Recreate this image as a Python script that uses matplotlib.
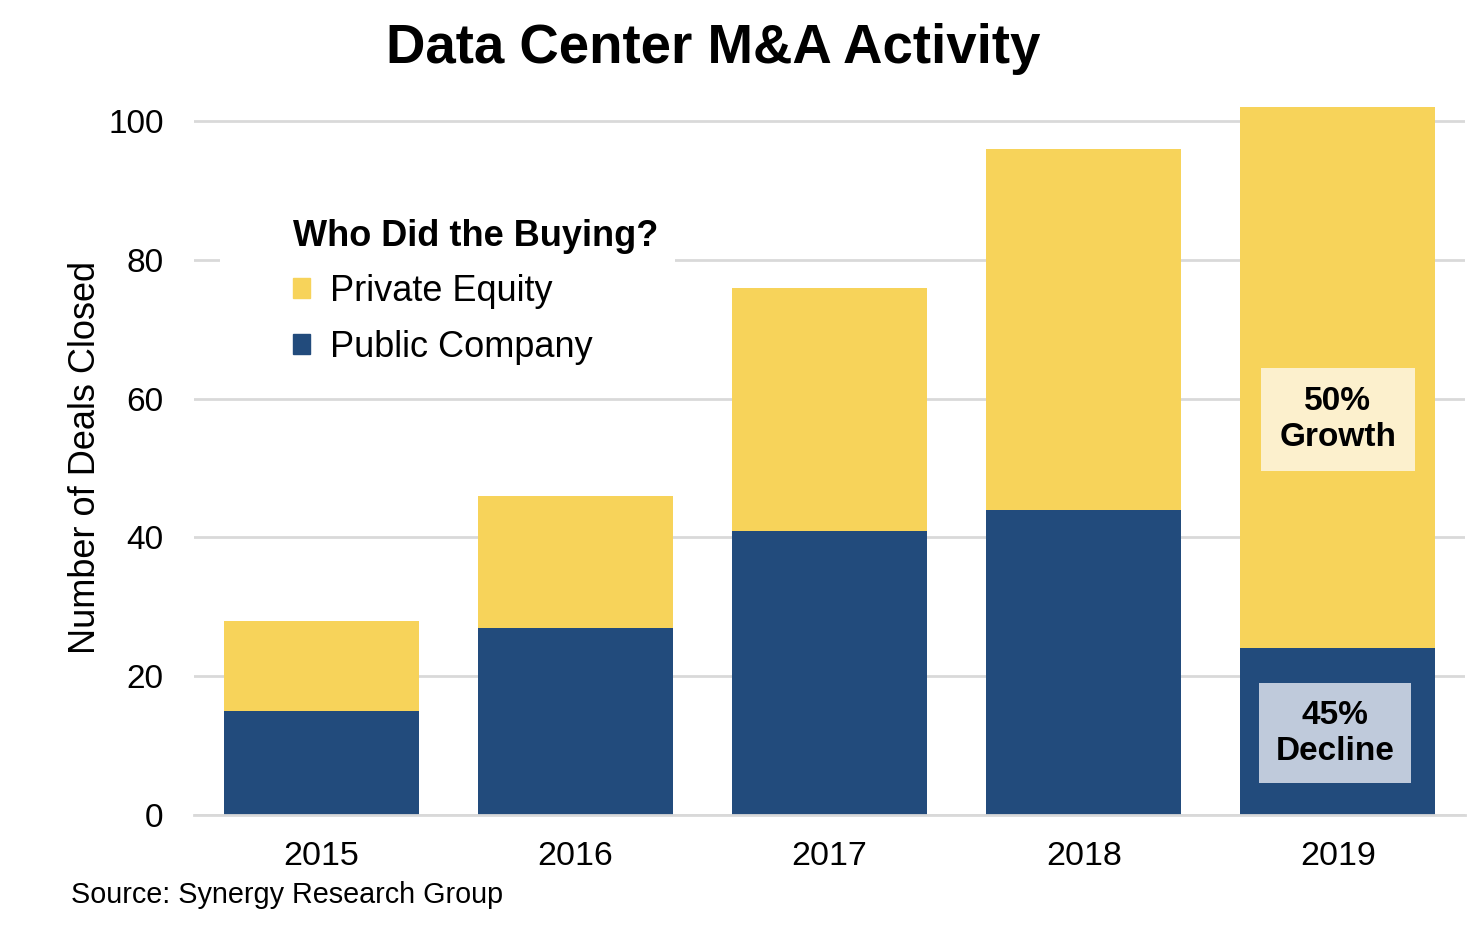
import matplotlib
matplotlib.use('Agg')
import matplotlib.pyplot as plt
from matplotlib.patches import Patch, Rectangle

plt.rcParams['font.family'] = ['Liberation Sans', 'DejaVu Sans']

years = ['2015', '2016', '2017', '2018', '2019']
public_company = [15, 27, 41, 44, 24]
private_equity = [13, 19, 35, 52, 78]

yellow = '#F7D35A'
navy = '#224B7C'
grid_col = '#D9D9D9'

fig = plt.figure(figsize=(14.82, 9.38), dpi=100)
ax = fig.add_axes([0.131, 0.1311, 0.8575, 0.762])

x = range(len(years))
ax.bar(x, public_company, width=0.767, color=navy, zorder=2)
ax.bar(x, private_equity, width=0.767, bottom=public_company, color=yellow, zorder=2)

ax.set_xlim(-0.5, 4.5)
ax.set_ylim(0, 103)
ax.set_yticks([0, 20, 40, 60, 80, 100])
ax.set_xticks(list(x))
ax.set_xticklabels(years)
ax.tick_params(axis='y', length=0, labelsize=24, pad=22)
ax.tick_params(axis='x', length=0, labelsize=24.5, pad=19)
ax.yaxis.grid(True, color=grid_col, linewidth=2, zorder=0)
ax.set_axisbelow(True)
for s in ['top', 'right', 'left']:
    ax.spines[s].set_visible(False)
ax.spines['bottom'].set_color(grid_col)
ax.spines['bottom'].set_linewidth(2)
ax.set_ylabel('Number of Deals Closed', fontsize=26, labelpad=4)

fig.text(0.481, 0.948, 'Data Center M&A Activity', fontsize=39.3, fontweight='bold',
         ha='center', va='center')
fig.text(0.048, 0.046, 'Source: Synergy Research Group', fontsize=20.7, ha='left', va='center')

# white area behind the legend (hides the gridline)
ax.add_patch(Rectangle((220 / 1482, 0.60), 455 / 1482, 0.18, transform=fig.transFigure,
                       facecolor='white', edgecolor='none', zorder=1))

handles = [Patch(color=yellow, label='Private Equity'),
           Patch(color=navy, label='Public Company')]
leg = ax.legend(handles=handles, title='Who Did the Buying?', loc='upper left',
                bbox_to_anchor=(0.1977, 0.767), bbox_transform=fig.transFigure,
                fontsize=26, title_fontproperties={'weight': 'bold', 'size': 26},
                alignment='left', frameon=False, borderpad=0, borderaxespad=0,
                handlelength=0.47, handleheight=0.47, handletextpad=0.55,
                labelspacing=0.57)
leg.set_zorder(5)

# annotation boxes on 2019 bar
i = 4
ax.text(i, 57, '50%\nGrowth', fontsize=24,
        fontweight='bold', ha='center', va='center', linespacing=1.2,
        bbox=dict(boxstyle='square,pad=0.55', facecolor='#FCF0CD', edgecolor='none'),
        zorder=4)
ax.text(i - 0.01, 11.8, '45%\nDecline', fontsize=24, fontweight='bold',
        ha='center', va='center', linespacing=1.2,
        bbox=dict(boxstyle='square,pad=0.5', facecolor='#BFCADB', edgecolor='none'),
        zorder=4)

fig.savefig('out.png', dpi=100)
